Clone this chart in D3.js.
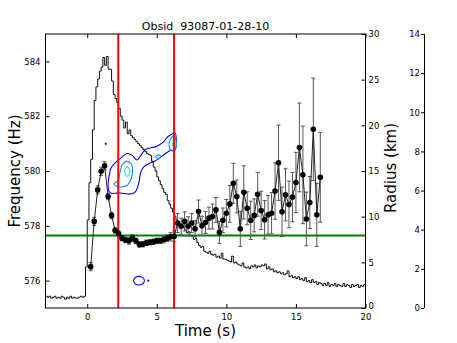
<!DOCTYPE html>
<html><head><meta charset="utf-8">
<script src="https://cdn.jsdelivr.net/npm/d3@7"></script>
<style>body{margin:0;background:#fff}svg{display:block;font-family:"DejaVu Sans",sans-serif}</style>
</head><body><svg id="c" width="457" height="343"></svg>
<script>
// ---------- data ----------
const title = "Obsid  93087-01-28-10";
const xTicks = [0, 5, 10, 15, 20];
const freqTicks = [576, 578, 580, 582, 584];
const radiusTicks = [0, 5, 10, 15, 20, 25, 30];
const rateTicks = [0, 2, 4, 6, 8, 10, 12, 14];

// burst oscillation frequency track (time s, Hz, error Hz)
const freqTime = [0.25,0.5,0.75,1.0,1.25,1.5,1.75,2.0,2.25,2.5,2.75,3.0,3.25,3.5,3.75,4.0,4.25,4.5,4.75,5.0,5.25,5.5,5.75,6.0,6.25,6.5,6.75,7.0,7.25,7.5,7.75,8.0,8.25,8.5,8.75,9.0,9.25,9.5,9.75,10.0,10.25,10.5,10.75,11.0,11.25,11.5,11.75,12.0,12.25,12.5,12.75,13.0,13.25,13.5,13.75,14.0,14.25,14.5,14.75,15.0,15.25,15.5,15.75,16.0,16.25,16.5,16.75];
const freqValue = [576.51,578.16,579.31,579.99,580.19,579.07,578.38,577.83,577.72,577.55,577.48,577.45,577.55,577.45,577.32,577.33,577.38,577.40,577.42,577.45,577.45,577.50,577.55,577.60,577.62,578.10,577.98,578.16,577.98,578.10,577.89,578.52,578.00,578.12,578.28,578.34,578.58,577.76,578.20,578.46,578.80,579.55,579.07,577.89,579.22,578.64,578.20,578.38,579.15,578.56,578.22,578.40,578.46,579.27,580.30,578.51,579.13,578.78,579.05,579.58,580.86,579.86,578.25,578.85,581.52,578.40,579.77];
const freqError = [0.15,0.15,0.15,0.15,0.15,0.12,0.12,0.1,0.1,0.1,0.1,0.12,0.12,0.1,0.1,0.1,0.1,0.1,0.1,0.1,0.1,0.12,0.12,0.15,0.2,0.35,0.3,0.35,0.35,0.35,0.3,0.42,0.35,0.4,0.4,0.45,0.45,0.4,0.45,0.5,0.67,0.73,0.6,0.64,0.97,0.6,0.7,0.6,0.8,0.7,0.7,0.7,0.75,1.03,1.37,0.9,0.95,0.85,0.9,1.1,1.62,1.78,0.98,0.95,1.87,1.15,1.64];

// count-rate light curve (bins of 0.125 s starting at -3 s)
const rateStart = -3, rateBin = 0.125;
const rate = [0.6,0.55,0.6,0.5,0.55,0.6,0.5,0.55,0.5,0.6,0.55,0.45,0.55,0.5,0.6,0.5,0.55,0.5,0.5,0.55,0.6,0.55,0.6,
2.1,4.5,6.4,7.6,9.1,10.6,11.3,11.7,12.1,12.3,12.8,12.4,12.85,12.2,12.2,11.6,10.9,10.7,10.5,10.2,9.8,9.6,9.2,9.5,8.9,9.1,8.8,8.7,8.6,8.5,8.4,8.3,8.2,8.1,8.0,7.9,7.85,7.8,7.5,7.2,7.0,6.7,6.5,6.3,6.1,5.9,5.8,5.5,5.3,5.1,4.9,4.7,4.5,4.4,4.25,4.2,4.1,
4.0,3.85,3.9,3.7,3.65,3.5,3.55,3.35,3.2,3.1,3.15,2.9,
2.85,2.8,2.9,2.75,2.7,2.75,2.6,2.65,2.55,2.8,2.5,2.5,
2.45,2.4,2.35,2.65,2.3,2.35,2.25,2.2,
2.15,2.3,2.1,2.05,2.1,2.0,2.15,2.1,
2.2,2.05,2.15,2.1,2.2,2.15,2.25,2.0,
2.1,1.95,2.0,1.85,1.9,1.8,1.85,1.75,
1.8,1.7,1.75,1.9,1.6,1.65,1.55,1.6,
1.5,1.6,1.45,1.5,1.4,1.55,1.35,1.4,
1.3,1.45,1.3,1.35,1.2,1.3,1.25,1.15,
1.25,1.15,1.3,1.1,1.2,1.15,1.25,1.1,
1.2,1.15,1.1,1.25,1.1,1.2,1.15,1.05,
1.2,1.1,1.15,1.2,1.05,1.15,1.1,1.2];

// markers
const redLines = [2.23, 6.24];
const greenLevel = 577.65;

// power contours (time s, Hz)
const outerT = [1.50,1.57,1.71,2.07,2.50,2.86,3.22,3.58,3.87,4.15,4.51,4.87,5.23,5.52,5.77,6.10,6.31,6.31,5.99,5.63,5.16,4.80,4.44,4.08,3.83,3.72,3.47,3.11,2.65,2.21,1.78,1.55];
const outerF = [579.45,579.82,580.11,580.33,580.51,580.64,580.58,580.40,580.58,580.77,580.84,580.88,580.97,581.08,581.24,581.35,581.39,580.77,580.75,580.64,580.46,580.35,580.27,580.16,579.93,579.60,579.25,579.16,579.18,579.20,579.18,579.27];
const midLeftT = [1.93,2.21,2.36,2.50,2.79,3.15,3.26,3.15,2.90,2.50,2.14];
const midLeftF = [579.53,579.64,579.96,580.22,580.35,580.27,580.03,579.71,579.49,579.42,579.43];
const midRingT = [4.91,5.10,5.30,5.10];
const midRingF = [580.52,580.59,580.52,580.46];
const midRightT = [5.88,6.02,6.24,6.38,6.38,6.17,5.95];
const midRightF = [580.99,581.20,581.28,581.13,580.84,580.73,580.80];
const innerLeftT = [2.68,2.86,3.08,2.90];
const innerLeftF = [579.96,580.16,580.00,579.80];
const innerRightT = [6.13,6.24,6.38,6.24];
const innerRightF = [580.99,581.13,580.99,580.84];
const blobT = [3.33,3.51,3.80,4.08,4.05,3.72,3.44];
const blobF = [576.02,576.13,576.15,576.06,575.91,575.84,575.89];
const dotT = [1.33, 4.39];
const dotF = [580.99, 576.0];

// ---------- layout ----------
const L = 45.5, R = 365.5, T = 34, B = 308;
const svg = d3.select("#c");
const x = d3.scaleLinear().domain([-3, 20]).range([L, R]);
const yF = d3.scaleLinear().domain([575, 585]).range([B, T]);
const yR = d3.scaleLinear().domain([0, 30]).range([B, T]);
const yC = d3.scaleLinear().domain([0, 14]).range([B, T]);

svg.append("defs").append("clipPath").attr("id", "pc")
  .append("rect").attr("x", L).attr("y", T).attr("width", R - L).attr("height", B - T);
const g = svg.append("g").attr("clip-path", "url(#pc)");

// light curve
const rateData = rate.map((v, i) => [rateStart + i * rateBin, v]);
rateData.push([rateStart + rate.length * rateBin, rate[rate.length - 1]]);
g.append("path").attr("d", d3.line().x(d => x(d[0])).y(d => yC(d[1])).curve(d3.curveStepAfter)(rateData))
  .attr("fill", "none").attr("stroke", "#111").attr("stroke-width", 1);

// contours
const cl = d3.line().x(d => x(d[0])).y(d => yF(d[1])).curve(d3.curveCatmullRomClosed);
function contour(ts, fs, col) {
  g.append("path").attr("d", cl(ts.map((t, i) => [t, fs[i]])))
    .attr("fill", "none").attr("stroke", col).attr("stroke-width", 1.1);
}
contour(outerT, outerF, "#0000ff");
contour(blobT, blobF, "#0000ff");
contour(midLeftT, midLeftF, "#1a8cff");
contour(midRingT, midRingF, "#1a8cff");
contour(midRightT, midRightF, "#1a8cff");
contour(innerLeftT, innerLeftF, "#33e6b3");
contour(innerRightT, innerRightF, "#33e6b3");
g.selectAll(".dot").data(dotT).join("circle")
  .attr("cx", d => x(d)).attr("cy", (d, i) => yF(dotF[i])).attr("r", 1.1).attr("fill", "#0000ff");

// reference lines
g.selectAll(".rl").data(redLines).join("line")
  .attr("x1", d => x(d)).attr("x2", d => x(d)).attr("y1", T).attr("y2", B)
  .attr("stroke", "#ff0000").attr("stroke-width", 2);
g.append("line").attr("x1", L).attr("x2", R).attr("y1", yF(greenLevel)).attr("y2", yF(greenLevel))
  .attr("stroke", "#008000").attr("stroke-width", 2);

// error bars
const eb = g.append("g").attr("stroke", "#555").attr("stroke-width", 1);
freqTime.forEach((t, i) => {
  const cx = x(t), y1 = yF(freqValue[i] + freqError[i]), y2 = yF(freqValue[i] - freqError[i]);
  eb.append("line").attr("x1", cx).attr("x2", cx).attr("y1", y1).attr("y2", y2);
  eb.append("line").attr("x1", cx - 2).attr("x2", cx + 2).attr("y1", y1).attr("y2", y1);
  eb.append("line").attr("x1", cx - 2).attr("x2", cx + 2).attr("y1", y2).attr("y2", y2);
});
g.append("path").attr("d", d3.line().x((d, i) => x(freqTime[i])).y(d => yF(d))(freqValue))
  .attr("fill", "none").attr("stroke", "#222").attr("stroke-width", 1);
g.selectAll(".pt").data(freqValue).join("circle")
  .attr("cx", (d, i) => x(freqTime[i])).attr("cy", d => yF(d)).attr("r", 2.8).attr("fill", "#000");

// axes
const fs = "8.5px";
function style(a) {
  a.select(".domain").remove();
  a.selectAll("text").attr("font-size", fs).attr("font-family", "DejaVu Sans").attr("fill", "#000");
  a.selectAll("line").attr("stroke", "#000");
}
svg.append("g").attr("transform", `translate(0,${B})`)
  .call(d3.axisBottom(x).tickValues(xTicks).tickSize(-4).tickPadding(6)).call(style);
svg.append("g").attr("transform", `translate(0,${T})`)
  .call(d3.axisTop(x).tickValues(xTicks).tickSize(-4).tickFormat("")).call(style);
svg.append("g").attr("transform", `translate(${L},0)`)
  .call(d3.axisLeft(yF).tickValues(freqTicks).tickSize(-4).tickPadding(5)).call(style);
const rad = svg.append("g").attr("transform", `translate(${R},0)`)
  .call(d3.axisRight(yR).tickValues(radiusTicks).tickSize(-4).tickPadding(3)).call(style);
rad.selectAll(".tick text").filter(d => d === 0).attr("y", -2);
const far = svg.append("g").attr("transform", "translate(424,0)")
  .call(d3.axisLeft(yC).tickValues(rateTicks).tickSize(3).tickPadding(1)).call(style);
far.append("line").attr("x1", 0.5).attr("x2", 0.5).attr("y1", T).attr("y2", B).attr("stroke", "#000");

svg.append("rect").attr("x", L).attr("y", T).attr("width", R - L).attr("height", B - T)
  .attr("fill", "none").attr("stroke", "#000").attr("stroke-width", 1);

// labels
svg.append("text").attr("x", 205.5).attr("y", 30).attr("text-anchor", "middle")
  .attr("font-size", "11px").style("white-space", "pre").text(title);
svg.append("text").attr("x", 205.5).attr("y", 336).attr("text-anchor", "middle")
  .attr("font-size", "15px").text("Time (s)");
svg.append("text").attr("transform", "translate(20,171) rotate(-90)").attr("text-anchor", "middle")
  .attr("font-size", "15px").text("Frequency (Hz)");
svg.append("text").attr("transform", "translate(396,168) rotate(-90)").attr("text-anchor", "middle")
  .attr("font-size", "15px").text("Radius (km)");
</script></body></html>
